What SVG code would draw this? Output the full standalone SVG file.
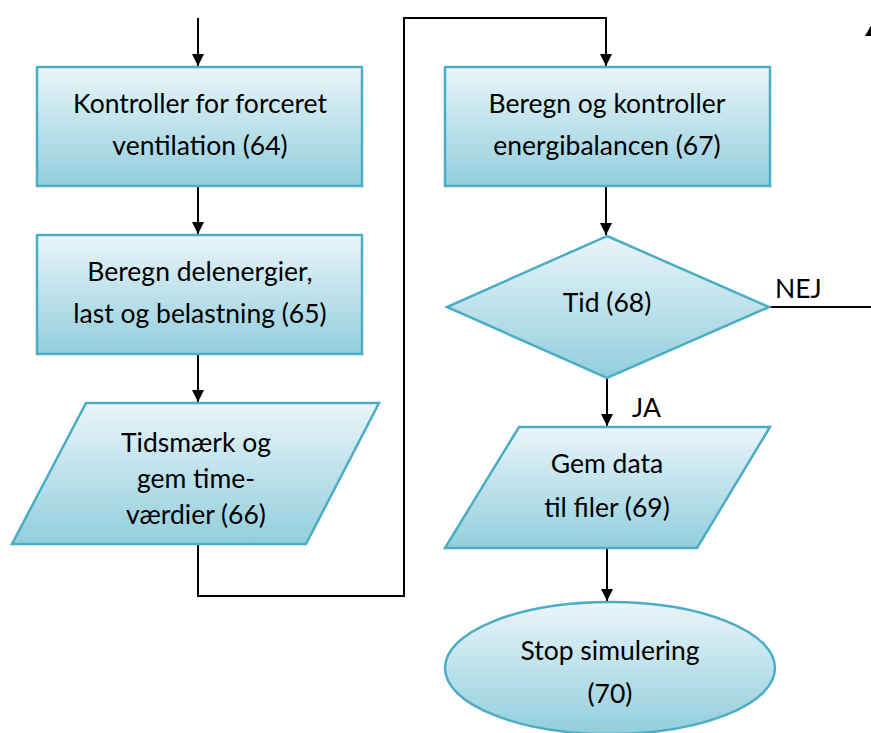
<svg xmlns="http://www.w3.org/2000/svg" width="871" height="733" viewBox="0 0 871 733">
<defs>
<linearGradient id="g" x1="0" y1="0" x2="0" y2="1">
<stop offset="0" stop-color="#eaf5f9"/>
<stop offset="1" stop-color="#92cedd"/>
</linearGradient>
<marker id="ah" viewBox="0 0 12 12" refX="12" refY="6" markerWidth="12" markerHeight="12" orient="auto" markerUnits="userSpaceOnUse">
<path d="M0,0 L12,6 L0,12 z" fill="#000"/>
</marker>
</defs>
<style>
.s{fill:url(#g);stroke:#4bacc6;stroke-width:2.5}
.t{font-family:Lato,"Open Sans",sans-serif;font-size:26.5px;fill:#000;text-anchor:middle}
.l{font-family:Lato,"Open Sans",sans-serif;font-size:26.5px;fill:#000}
.c{fill:none;stroke:#000;stroke-width:2}
</style>
<rect width="871" height="733" fill="#fff"/>
<g id="connectors">
<path class="c" d="M198,18 V66" marker-end="url(#ah)"/>
<path class="c" d="M198,186 V234" marker-end="url(#ah)"/>
<path class="c" d="M198,354 V402" marker-end="url(#ah)"/>
<path class="c" d="M198,545 V596 H404 V18 H606 V66" marker-end="url(#ah)"/>
<path class="c" d="M606,186 V235" marker-end="url(#ah)"/>
<path class="c" d="M769,307 H871"/>
<path class="c" d="M607,378 V426" marker-end="url(#ah)"/>
<path class="c" d="M607,548 V601" marker-end="url(#ah)"/>
<polygon points="873,22 865,36 881,36" fill="#000"/>
</g>
<g id="n64">
<rect class="s" x="37" y="67" width="325" height="119"/>
<text class="t" x="200" y="113">Kontroller for forceret</text>
<text class="t" x="200" y="155">ventilation (64)</text>
</g>
<g id="n65">
<rect class="s" x="37" y="235" width="325" height="119"/>
<text class="t" x="200" y="281">Beregn delenergier,</text>
<text class="t" x="200" y="323">last og belastning (65)</text>
</g>
<g id="n66">
<polygon class="s" points="86,403 379,403 306,544 12,544"/>
<text class="t" x="196" y="452">Tidsmærk og</text>
<text class="t" x="196" y="488">gem time-</text>
<text class="t" x="196" y="524">værdier (66)</text>
</g>
<g id="n67">
<rect class="s" x="445" y="67" width="325" height="119"/>
<text class="t" x="607" y="113">Beregn og kontroller</text>
<text class="t" x="607" y="155">energibalancen (67)</text>
</g>
<g id="n68">
<polygon class="s" points="607,236 769,307 607,378 447,307"/>
<text class="t" x="607" y="312">Tid (68)</text>
<text class="l" x="775" y="298">NEJ</text>
<text class="l" x="632" y="417">JA</text>
</g>
<g id="n69">
<polygon class="s" points="519,427 770,427 697,548 445,548"/>
<text class="t" x="607" y="473">Gem data</text>
<text class="t" x="607" y="517">til filer (69)</text>
</g>
<g id="n70">
<ellipse class="s" cx="610" cy="668" rx="165" ry="66"/>
<text class="t" x="610" y="660">Stop simulering</text>
<text class="t" x="610" y="703">(70)</text>
</g>
</svg>
